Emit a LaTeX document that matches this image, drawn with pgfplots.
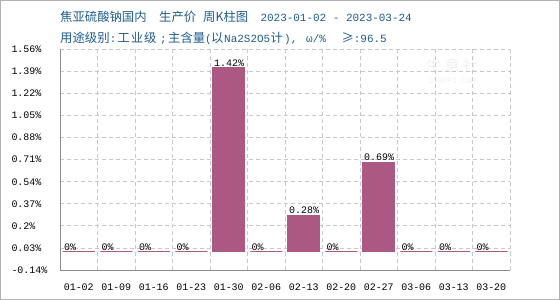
\documentclass[border=0pt]{standalone}
\usepackage{fontspec}
\setmainfont{Liberation Mono}
\newfontfamily\cjk{Noto Sans CJK SC}
\usepackage{pgfplots}
\pgfplotsset{compat=1.18}
\definecolor{barc}{RGB}{171,88,130}
\definecolor{titc}{RGB}{31,92,140}
\definecolor{gridc}{RGB}{200,200,200}
\definecolor{axc}{RGB}{140,140,140}
\newcommand\cj{\cjk\fontsize{12.4}{14}\selectfont}
\newcommand\mo{\normalfont\fontsize{11}{13}\selectfont}
\begin{document}
\begin{tikzpicture}
\useasboundingbox (0bp,0bp) rectangle (560bp,300bp);
\draw[color=gray!60, line width=1bp] (0.5bp,0.5bp) rectangle (559.5bp,299.5bp);
\begin{scope}[every node/.style={text=titc, inner sep=0, anchor=base west}]
\node at (60bp,278.5bp) {\cj 焦亚硫酸钠国内};
\node at (159bp,278.5bp) {\cj 生产价};
\node at (203bp,278.5bp) {\cj 周K柱图};
\node[anchor=base east] at (412bp,278.5bp) {\mo 2023-01-02 - 2023-03-24};
\node at (60bp,257.5bp) {\cj 用途级别};
\node at (109.6bp,257.5bp) {\mo :};
\node at (117.5bp,257.5bp) {\cj 工\kern0.8bp 业\kern0.8bp 级};
\node at (160bp,257.5bp) {\mo ;};
\node at (168bp,257.5bp) {\cj 主含量};
\node at (205bp,257.5bp) {\mo (};
\node at (211bp,257.5bp) {\cj 以};
\node at (224bp,257.5bp) {\mo Na2S2O5};
\node at (270.5bp,257.5bp) {\cj 计};
\node at (284bp,257.5bp) {\mo ),};
\node at (306bp,257.5bp) {\mo ω/\%};
\node[anchor=base east] at (387bp,257.5bp) {\cj ≥\mo :96.5};
\end{scope}
\node[text=gray!12, inner sep=0] at (452bp,234bp) {\fontsize{15}{15}\selectfont\cjk 生 意 社};
\node[text=gray!12, inner sep=0] at (452bp,219bp) {\fontsize{8}{8}\selectfont 100PPI.COM};
\begin{axis}[
 at={(60bp,30bp)}, anchor=south west,
 scale only axis, width=450bp, height=220.7bp,
 xmin=-0.5, xmax=11.5, ymin=-0.14, ymax=1.56,
 axis x line*=bottom, axis y line*=left,
 axis line style={axc, line width=0.9bp},
 xtick={0,...,11},
 xticklabels={01-02,01-09,01-16,01-23,01-30,02-06,02-13,02-20,02-27,03-06,03-13,03-20},
 minor xtick={-0.5,0.5,...,11.5},
 xminorgrids=true, ymajorgrids=true, xmajorgrids=false,
 grid style={gridc, dash pattern=on 4bp off 3bp, line width=0.8bp},
 minor grid style={gridc, dash pattern=on 4bp off 3bp, line width=0.8bp},
 major tick length=0, minor tick length=0,
 ytick={-0.14,0.03,0.2,0.37,0.54,0.71,0.88,1.05,1.22,1.39,1.56},
 yticklabels={-0.14\%,0.03\%,0.2\%,0.37\%,0.54\%,0.71\%,0.88\%,1.05\%,1.22\%,1.39\%,1.56\%},
 yticklabel style={anchor=west, xshift=-52bp, font=\fontsize{10}{12}\selectfont},
 xticklabel style={yshift=-10bp, font=\fontsize{10}{12}\selectfont},
 ybar, bar width=32bp,
 nodes near coords={\pgfmathprintnumber{\pgfplotspointmeta}\%},
 every node near coord/.append style={anchor=south west, xshift=-16bp, inner sep=1bp, font=\fontsize{10}{12}\selectfont, /pgf/number format/assume math mode=true},
]
\addplot[fill=barc, draw=barc, line width=0.8bp] coordinates {
(0,0) (1,0) (2,0) (3,0) (4,1.42) (5,0) (6,0.28) (7,0) (8,0.69) (9,0) (10,0) (11,0)};
\end{axis}
\end{tikzpicture}
\end{document}
